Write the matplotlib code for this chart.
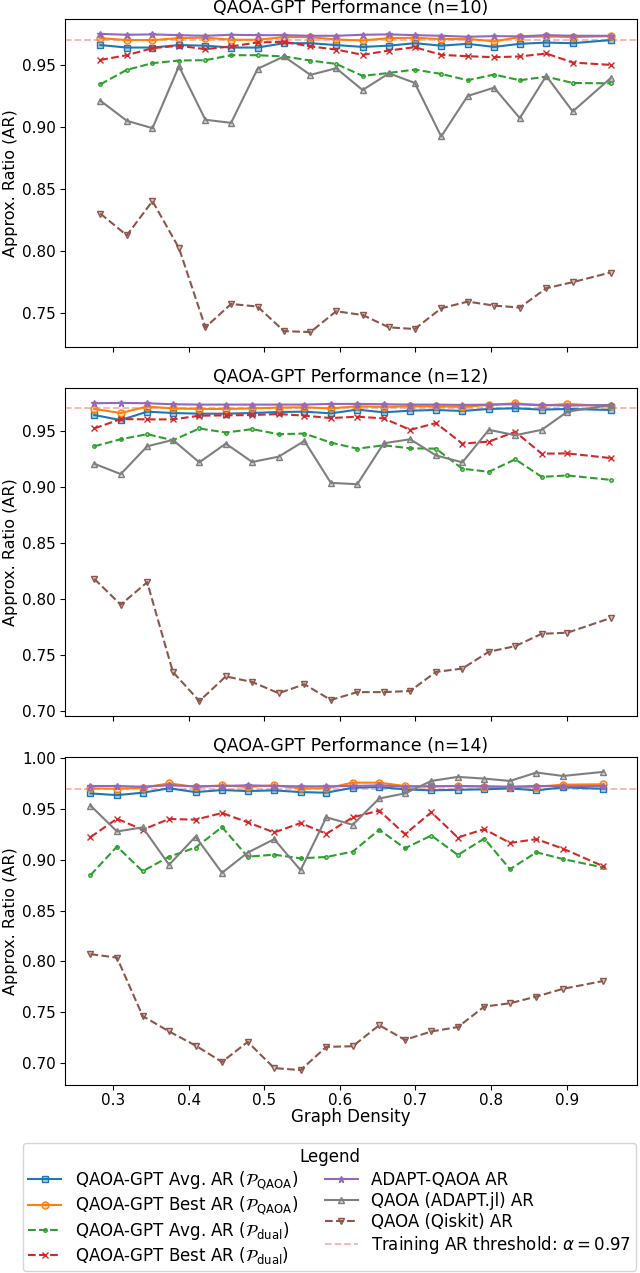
import matplotlib
matplotlib.use("Agg")
import matplotlib.pyplot as plt
from matplotlib.colors import to_rgba

# ---------------- data ----------------
x_n10 = [0.283, 0.318, 0.352, 0.387, 0.422, 0.456, 0.491, 0.526, 0.561, 0.595,
         0.630, 0.665, 0.699, 0.734, 0.769, 0.804, 0.838, 0.873, 0.908, 0.958]
x_n12 = [0.275, 0.310, 0.345, 0.379, 0.414, 0.449, 0.484, 0.519, 0.553, 0.588,
         0.623, 0.658, 0.693, 0.727, 0.762, 0.797, 0.832, 0.867, 0.901, 0.958]
x_n14 = [0.270, 0.305, 0.339, 0.374, 0.409, 0.444, 0.478, 0.513, 0.548, 0.582,
         0.617, 0.652, 0.686, 0.721, 0.756, 0.791, 0.825, 0.860, 0.895, 0.948]

avg_qaoa_10 = [0.966, 0.964, 0.964, 0.966, 0.9655, 0.964, 0.964, 0.9675, 0.9675, 0.966,
               0.9645, 0.9655, 0.9675, 0.9655, 0.967, 0.9645, 0.967, 0.968, 0.9675, 0.970]
best_qaoa_10 = [0.9716, 0.970, 0.970, 0.9716, 0.972, 0.9703, 0.9703, 0.9724, 0.9724, 0.9705,
                0.9697, 0.9716, 0.9719, 0.9708, 0.971, 0.969, 0.9724, 0.973, 0.9724, 0.9732]
avg_dual_10 = [0.9343, 0.946, 0.9514, 0.9535, 0.9538, 0.9578, 0.9578, 0.9568, 0.9535, 0.9508,
               0.9411, 0.9435, 0.9462, 0.9427, 0.9376, 0.9422, 0.9376, 0.9405, 0.9354, 0.9351]
best_dual_10 = [0.954, 0.9578, 0.9635, 0.9654, 0.9627, 0.9649, 0.9681, 0.9686, 0.9649, 0.9624,
                0.9581, 0.9616, 0.9643, 0.9581, 0.957, 0.9562, 0.9568, 0.9592, 0.9519, 0.950]
adapt_10 = [0.975, 0.9743, 0.9746, 0.974, 0.9735, 0.9743, 0.974, 0.974, 0.9735, 0.9735,
            0.9743, 0.9746, 0.974, 0.9735, 0.9727, 0.9732, 0.973, 0.974, 0.9735, 0.9735]
adaptjl_10 = [0.9211, 0.9049, 0.8989, 0.9489, 0.9057, 0.9032, 0.9468, 0.9568, 0.9419, 0.9473,
              0.9297, 0.9432, 0.9354, 0.8922, 0.9249, 0.9316, 0.907, 0.9411, 0.9124, 0.9392]
qiskit_10 = [0.830, 0.8124, 0.840, 0.8022, 0.7381, 0.757, 0.7549, 0.7351, 0.7343, 0.7511,
             0.7481, 0.7381, 0.7368, 0.7535, 0.7589, 0.7557, 0.7541, 0.7697, 0.7746, 0.7824]

avg_qaoa_12 = [0.9641, 0.9596, 0.9671, 0.9659, 0.9653, 0.9653, 0.9659, 0.9668, 0.9671, 0.9656,
               0.9689, 0.9665, 0.968, 0.9686, 0.9677, 0.9695, 0.9701, 0.9689, 0.9695, 0.9686]
best_qaoa_12 = [0.9695, 0.9659, 0.9716, 0.970, 0.9695, 0.9695, 0.970, 0.9707, 0.971, 0.970,
                0.9719, 0.9713, 0.9719, 0.9719, 0.9713, 0.9731, 0.9746, 0.9725, 0.974, 0.9719]
avg_dual_12 = [0.9362, 0.9425, 0.947, 0.9416, 0.9521, 0.9485, 0.9515, 0.947, 0.9476, 0.9395,
               0.9341, 0.9371, 0.9344, 0.9341, 0.9162, 0.9135, 0.9246, 0.909, 0.9102, 0.9063]
best_dual_12 = [0.9521, 0.9605, 0.9602, 0.9602, 0.9635, 0.9638, 0.9641, 0.965, 0.9635, 0.9614,
                0.9626, 0.9611, 0.9509, 0.9569, 0.9386, 0.9404, 0.9491, 0.9296, 0.9299, 0.9257]
adapt_12 = [0.9746, 0.9749, 0.9746, 0.9737, 0.9734, 0.9734, 0.9734, 0.9734, 0.9734, 0.974,
            0.974, 0.9737, 0.9734, 0.9734, 0.9731, 0.9734, 0.9737, 0.9731, 0.9725, 0.9731]
adaptjl_12 = [0.9207, 0.9114, 0.9362, 0.9419, 0.9219, 0.9386, 0.9222, 0.927, 0.941, 0.9036,
              0.9024, 0.9389, 0.9425, 0.9281, 0.9219, 0.9509, 0.9461, 0.9509, 0.9671, 0.973]
qiskit_12 = [0.818, 0.795, 0.815, 0.735, 0.709, 0.731, 0.726, 0.716, 0.724, 0.710,
             0.717, 0.717, 0.718, 0.735, 0.738, 0.753, 0.758, 0.769, 0.770, 0.783]

avg_qaoa_14 = [0.9655, 0.9638, 0.9662, 0.9705, 0.9668, 0.9688, 0.9678, 0.9685, 0.9668, 0.9662,
               0.9711, 0.9718, 0.9695, 0.9685, 0.9691, 0.9695, 0.9705, 0.9685, 0.9715, 0.9701]
best_qaoa_14 = [0.9705, 0.9701, 0.9711, 0.9754, 0.9718, 0.9735, 0.9718, 0.9735, 0.9705, 0.9705,
                0.9761, 0.9761, 0.9728, 0.9725, 0.9728, 0.9721, 0.9718, 0.9721, 0.9741, 0.9745]
avg_dual_14 = [0.8849, 0.9131, 0.8888, 0.9031, 0.9121, 0.9323, 0.9031, 0.9051, 0.9015, 0.9028,
               0.9081, 0.9297, 0.9114, 0.924, 0.9048, 0.921, 0.8908, 0.9074, 0.9008, 0.8925]
best_dual_14 = [0.9224, 0.9406, 0.9297, 0.9403, 0.9396, 0.9462, 0.937, 0.927, 0.9363, 0.9257,
                0.9419, 0.9486, 0.9253, 0.9469, 0.922, 0.9303, 0.9167, 0.9204, 0.9111, 0.8938]
adapt_14 = [0.9728, 0.9728, 0.9721, 0.9735, 0.9725, 0.9728, 0.9735, 0.9728, 0.9725, 0.9725,
            0.9728, 0.9735, 0.9721, 0.9725, 0.9728, 0.9725, 0.9721, 0.9728, 0.9725, 0.9728]
adaptjl_14 = [0.9535, 0.928, 0.932, 0.8951, 0.923, 0.8872, 0.9071, 0.9204, 0.8898, 0.9419,
              0.9346, 0.9605, 0.9655, 0.9778, 0.9818, 0.9801, 0.9778, 0.9861, 0.9827, 0.9867]
qiskit_14 = [0.807, 0.8036, 0.746, 0.7308, 0.7169, 0.7007, 0.7205, 0.6947, 0.6927, 0.7156,
             0.7162, 0.737, 0.7225, 0.7308, 0.7351, 0.7553, 0.7586, 0.7652, 0.7728, 0.7805]

n_values = [10, 12, 14]
threshold = 0.97
x_ticks = [0.3, 0.4, 0.5, 0.6, 0.7, 0.8, 0.9]

series_labels = [
    r'QAOA-GPT Avg. AR ($\mathcal{P}_{\mathrm{QAOA}}$)',
    r'QAOA-GPT Best AR ($\mathcal{P}_{\mathrm{QAOA}}$)',
    r'QAOA-GPT Avg. AR ($\mathcal{P}_{\mathrm{dual}}$)',
    r'QAOA-GPT Best AR ($\mathcal{P}_{\mathrm{dual}}$)',
    'ADAPT-QAOA AR',
    'QAOA (ADAPT.jl) AR',
    'QAOA (Qiskit) AR',
]
threshold_label = r'Training AR threshold: $\alpha = 0.97$'

panels = [
    (x_n10, [avg_qaoa_10, best_qaoa_10, avg_dual_10, best_dual_10, adapt_10, adaptjl_10, qiskit_10]),
    (x_n12, [avg_qaoa_12, best_qaoa_12, avg_dual_12, best_dual_12, adapt_12, adaptjl_12, qiskit_12]),
    (x_n14, [avg_qaoa_14, best_qaoa_14, avg_dual_14, best_dual_14, adapt_14, adaptjl_14, qiskit_14]),
]

# ---------------- styles ----------------
colors = ['#1f77b4', '#ff7f0e', '#2ca02c', '#d62728', '#9467bd', '#7f7f7f', '#8c564b']
markers = ['s', 'o', '.', 'x', '*', '^', 'v']
lstyles = ['-', '-', '--', '--', '-', '-', '--']

W, H = 640, 1273
fig = plt.figure(figsize=(W / 100, H / 100), dpi=100)

left = 64.5 / W
width = (636.5 - 64.5) / W
tops = [19, 388, 757]
ph = 328

axes = []
for k, (xs, ys_list) in enumerate(panels):
    ax = fig.add_axes([left, 1 - (tops[k] + ph) / H, width, ph / H],
                      sharex=axes[0] if axes else None)
    for ys, c, m, ls, lab in zip(ys_list, colors, markers, lstyles, series_labels):
        ax.plot(xs, ys, color=c, marker=m, linestyle=ls, linewidth=1.5,
                markersize=5, markerfacecolor=to_rgba(c, 0.35),
                markeredgecolor=c, markeredgewidth=1.0, label=lab)
    ax.axhline(threshold, color='#f4a0a0', linestyle='--', linewidth=1.3,
               alpha=0.8, zorder=1, label=threshold_label)
    ax.set_title(f'QAOA-GPT Performance (n={n_values[k]})', fontsize=12.5, pad=4)
    ax.set_ylabel('Approx. Ratio (AR)', fontsize=11.5, labelpad=3)
    ax.tick_params(labelsize=11, pad=2.5)
    if k < 2:
        ax.tick_params(labelbottom=False)
    axes.append(ax)

axes[-1].set_xticks(x_ticks)
axes[-1].set_xlabel('Graph Density', fontsize=12, labelpad=0)

handles, labels = axes[-1].get_legend_handles_labels()
fig.legend(handles, labels, loc='upper center', bbox_to_anchor=(0.515, 1 - 1143 / H),
           borderaxespad=0, ncol=2, title='Legend', fontsize=12, title_fontsize=12,
           handlelength=2.0, columnspacing=1.6, labelspacing=0.18, borderpad=0.3)

fig.savefig('out.png', dpi=100)
